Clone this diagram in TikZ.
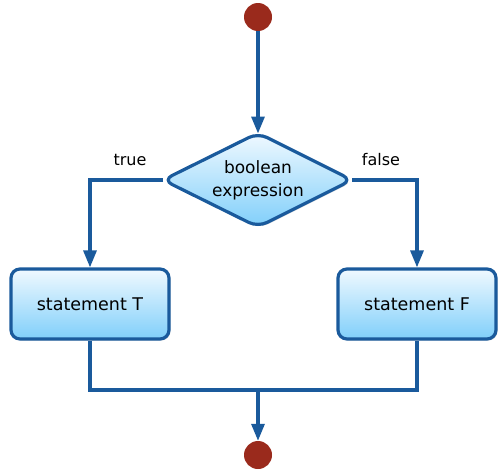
\documentclass[tikz,border=0pt]{standalone}
\usepackage{fontspec}
\setmainfont{DejaVu Sans}
\usetikzlibrary{arrows.meta,shadows}

\definecolor{edgeblue}{HTML}{1A5A9C}
\definecolor{filltop}{HTML}{F0F9FF}
\definecolor{fillbot}{HTML}{80CFFA}
\definecolor{dotred}{HTML}{9A2A1C}

\tikzset{
  flow/.style={draw=edgeblue, line width=3.2pt},
  arr/.style={flow, -{Triangle[length=17pt,width=13pt]}},
  shade/.style={top color=filltop, bottom color=fillbot},
  stepbox/.style={draw=edgeblue, line width=3.2pt, rounded corners=9pt, shade,
    minimum width=158pt, minimum height=70pt, inner sep=0pt,
    drop shadow={shadow xshift=1.5pt, shadow yshift=-1.5pt, opacity=0.25},
    font=\fontsize{17.5}{20}\selectfont},
  decision/.style={draw=edgeblue, line width=3.2pt, rounded corners=10pt, shade,
    drop shadow={shadow xshift=1.5pt, shadow yshift=-1.5pt, opacity=0.25}},
  dtext/.style={align=center, inner sep=0pt, font=\fontsize{17}{23}\selectfont},
  terminal/.style={circle, fill=dotred, minimum size=28pt, inner sep=0pt},
  lbl/.style={font=\fontsize{16}{19}\selectfont}
}

\begin{document}
\begin{tikzpicture}[x=1pt,y=-1pt]
  \useasboundingbox (0,0) rectangle (498,471);

  % corner points of the decision diamond
  \coordinate (cn) at (258,133);
  \coordinate (ce) at (352,180);
  \coordinate (cs) at (258,227);
  \coordinate (cw) at (163,180);

  \node[terminal] (start) at (258,17) {};
  \node[stepbox] (st) at (90,304) {statement T};
  \node[stepbox] (sf) at (417,304) {statement F};
  \node[terminal] (stop) at (258,455) {};

  \coordinate (jl) at (90,390);
  \coordinate (jr) at (417,390);
  \coordinate (jm) at (258,390);

  % branches leave from the diamond tips; the diamond is drawn over them
  \draw[arr] (cw) -| (st.north);
  \draw[arr] (ce) -| (sf.north);

  \path[decision] (cn) -- (ce) -- (cs) -- (cw) -- cycle;
  \node[dtext] (cond) at (258,180) {boolean\\expression};

  \draw[arr] (start) -- ([yshift=-0.5pt]cn);
  \draw[flow] (st.south) -- (jl) -- (jr) -- (sf.south);
  \draw[arr] (jm) -- (stop);

  \node[lbl] (tlab) at (130,160) {true};
  \node[lbl] (flab) at (381,160) {false};
\end{tikzpicture}
\end{document}
